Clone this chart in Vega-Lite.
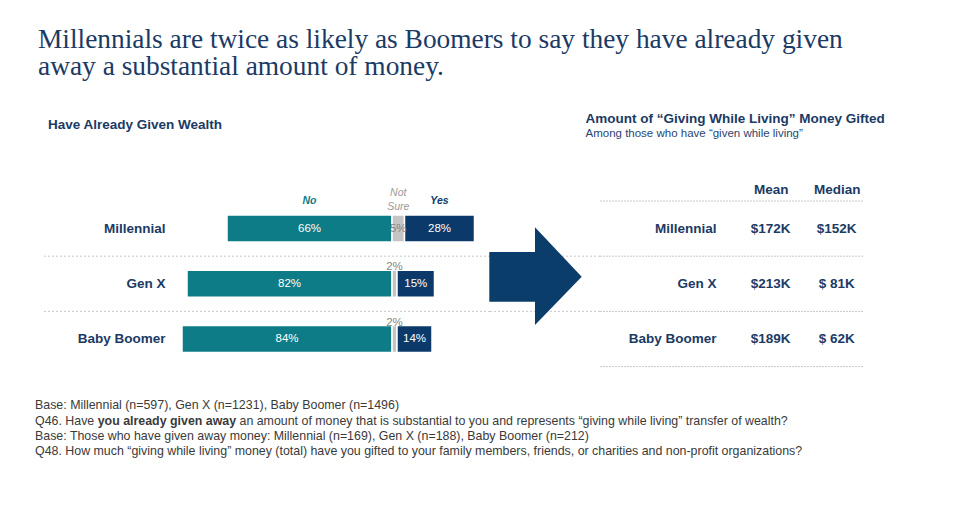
{
  "$schema": "https://vega.github.io/schema/vega-lite/v6.json",
  "background": "white",
  "padding": {"left": 35, "top": 26, "right": 5, "bottom": 5},
  "bounds": "flush",
  "columns": 3,
  "spacing": {"row": 30.7, "column": 0},
  "title": {
    "text": ["Millennials are twice as likely as Boomers to say they have already given", "away a substantial amount of money."],
    "anchor": "start",
    "font": "Liberation Serif",
    "fontSize": 27.4,
    "lineHeight": 27,
    "fontWeight": "normal",
    "color": "#1b3a64",
    "baseline": "top",
    "dx": 3,
    "offset": 31.2
  },
  "config": {
    "view": {"stroke": null},
    "font": "Liberation Sans",
    "title": {"font": "Liberation Sans", "subtitleFont": "Liberation Sans"},
    "axis": {"labelFont": "Liberation Sans"}
  },
  "datasets": {
    "survey": [
      {"group": "Millennial", "response": "No", "value": -66},
      {"group": "Millennial", "response": "Not Sure", "value": 5},
      {"group": "Millennial", "response": "Yes", "value": 28},
      {"group": "Gen X", "response": "No", "value": -82},
      {"group": "Gen X", "response": "Not Sure", "value": 2},
      {"group": "Gen X", "response": "Yes", "value": 15},
      {"group": "Baby Boomer", "response": "No", "value": -84},
      {"group": "Baby Boomer", "response": "Not Sure", "value": 2},
      {"group": "Baby Boomer", "response": "Yes", "value": 14}
    ],
    "gifted": [
      {"group": "Millennial", "stat": "Mean", "value": 172},
      {"group": "Millennial", "stat": "Median", "value": 152},
      {"group": "Gen X", "stat": "Mean", "value": 213},
      {"group": "Gen X", "stat": "Median", "value": 81},
      {"group": "Baby Boomer", "stat": "Mean", "value": 189},
      {"group": "Baby Boomer", "stat": "Median", "value": 62}
    ],
    "arrow": [{"item": "arrow"}],
    "notes": [
      {"line": 1, "part": "plain", "text": "Base: Millennial (n=597), Gen X (n=1231), Baby Boomer (n=1496)"},
      {"line": 2, "part": "plain", "text": "Q46. Have"},
      {"line": 2, "part": "bold", "text": "you already given away"},
      {"line": 2, "part": "post", "text": "an amount of money that is substantial to you and represents “giving while living” transfer of wealth?"},
      {"line": 3, "part": "plain", "text": "Base: Those who have given away money: Millennial (n=169), Gen X (n=188), Baby Boomer (n=212)"},
      {"line": 4, "part": "plain", "text": "Q48. How much “giving while living” money (total) have you gifted to your family members, friends, or charities and non-profit organizations?"}
    ]
  },
  "concat": [
    {
      "width": 448,
      "height": 165.6,
      "title": {
        "text": "Have Already Given Wealth",
        "anchor": "start",
        "fontSize": 13.5,
        "fontWeight": "bold",
        "color": "#1b3a64",
        "baseline": "alphabetic",
        "dx": 6.5,
        "offset": 46
      },
      "data": {"name": "survey"},
      "encoding": {
        "y": {
          "field": "group",
          "type": "nominal",
          "scale": {"type": "band", "domain": ["Millennial", "Gen X", "Baby Boomer"], "paddingInner": 0, "paddingOuter": 0},
          "axis": {
            "title": null,
            "domain": false,
            "ticks": false,
            "tickSize": 0,
            "grid": false,
            "labelPadding": 0,
            "offset": -123,
            "labelFontSize": 13.5,
            "labelFontWeight": "bold",
            "labelColor": "#1b3a64"
          }
        }
      },
      "layer": [
        {
          "transform": [{"filter": "datum.response == 'No' && datum.group != 'Baby Boomer'"}],
          "mark": {"type": "rule", "color": "#c8c8c8", "strokeDash": [2, 2], "strokeWidth": 1},
          "encoding": {
            "y": {"field": "group", "type": "nominal", "bandPosition": 1}
          }
        },
        {
          "mark": {"type": "bar", "size": 27, "stroke": "white", "strokeWidth": 1.5},
          "encoding": {
            "x": {
              "field": "value",
              "type": "quantitative",
              "stack": "zero",
              "scale": {"domain": [-140, 39.2], "nice": false, "zero": false},
              "axis": null
            },
            "order": {"field": "response", "type": "nominal", "sort": "ascending"},
            "color": {
              "field": "response",
              "type": "nominal",
              "scale": {"domain": ["No", "Not Sure", "Yes"], "range": ["#0e7c86", "#c4c4c4", "#0b3a6a"]},
              "legend": null
            }
          }
        },
        {
          "mark": {"type": "text", "fontSize": 11.5, "align": "center", "baseline": "middle", "text": {"expr": "abs(datum.value) + '%'"}},
          "encoding": {
            "x": {"field": "value", "type": "quantitative", "stack": "zero", "bandPosition": 0.5},
            "detail": {"field": "response"},
            "order": {"field": "response", "type": "nominal", "sort": "ascending"},
            "color": {"condition": {"test": "datum.response == 'Not Sure'", "value": "#858585"}, "value": "white"},
            "opacity": {"condition": {"test": "datum.response == 'Not Sure' && datum.value < 4", "value": 0}, "value": 1}
          }
        },
        {
          "mark": {"type": "text", "fontSize": 11.5, "align": "center", "baseline": "middle", "dy": -16.5, "color": "#858585", "text": {"expr": "abs(datum.value) + '%'"}},
          "encoding": {
            "x": {"field": "value", "type": "quantitative", "stack": "zero", "bandPosition": 0.5},
            "detail": {"field": "response"},
            "order": {"field": "response", "type": "nominal", "sort": "ascending"},
            "opacity": {"condition": {"test": "datum.response == 'Not Sure' && datum.value < 4", "value": 1}, "value": 0}
          }
        },
        {
          "transform": [{"filter": "datum.group == 'Millennial'"}],
          "mark": {"type": "text", "fontSize": 10.5, "fontWeight": "bold", "fontStyle": "italic", "align": "center", "baseline": "middle", "dy": -27.6},
          "encoding": {
            "x": {"field": "value", "type": "quantitative", "stack": "zero", "bandPosition": 0.5},
            "detail": {"field": "response"},
            "order": {"field": "response", "type": "nominal", "sort": "ascending"},
            "text": {"field": "response"},
            "color": {"condition": {"test": "datum.response == 'No'", "value": "#0e7c86"}, "value": "#0b3a6a"},
            "opacity": {"condition": {"test": "datum.response == 'Not Sure'", "value": 0}, "value": 1}
          }
        },
        {
          "transform": [{"filter": "datum.group == 'Millennial'"}],
          "mark": {"type": "text", "fontSize": 10.5, "fontStyle": "italic", "align": "center", "baseline": "middle", "dy": -35.6, "lineBreak": " ", "lineHeight": 13.5, "color": "#9a9a9a"},
          "encoding": {
            "x": {"field": "value", "type": "quantitative", "stack": "zero", "bandPosition": 0.5},
            "detail": {"field": "response"},
            "order": {"field": "response", "type": "nominal", "sort": "ascending"},
            "text": {"field": "response"},
            "opacity": {"condition": {"test": "datum.response == 'Not Sure'", "value": 1}, "value": 0}
          }
        }
      ]
    },
    {
      "width": 110,
      "height": 165.6,
      "layer": [
        {
          "data": {"name": "survey"},
          "transform": [{"filter": "datum.response == 'No' && datum.group != 'Baby Boomer'"}],
          "mark": {"type": "rule", "color": "#c8c8c8", "strokeDash": [2, 2], "strokeWidth": 1},
          "encoding": {
            "y": {
              "field": "group",
              "type": "nominal",
              "bandPosition": 1,
              "scale": {"type": "band", "domain": ["Millennial", "Gen X", "Baby Boomer"], "paddingInner": 0, "paddingOuter": 0},
              "axis": null
            }
          }
        },
        {
          "data": {"name": "arrow"},
          "mark": {
            "type": "point",
            "shape": "M-1.14,-0.651L-0.205,-0.651L-0.205,-1.157L0.751,-0.145L-0.205,0.843L-0.205,0.366L-1.14,0.366Z",
            "size": 9545,
            "filled": true,
            "color": "#0b3d6b",
            "opacity": 1,
            "strokeWidth": 0
          },
          "encoding": {}
        }
      ]
    },
    {
      "width": 263,
      "height": 165.6,
      "title": {
        "text": "Amount of “Giving While Living” Money Gifted",
        "subtitle": "Among those who have “given while living”",
        "anchor": "start",
        "dx": -14,
        "fontSize": 13.5,
        "fontWeight": "bold",
        "color": "#1b3a64",
        "subtitleFontSize": 11.5,
        "subtitleColor": "#2a4670",
        "subtitlePadding": 2,
        "offset": 43
      },
      "data": {"name": "gifted"},
      "encoding": {
        "y": {
          "field": "group",
          "type": "nominal",
          "scale": {"type": "band", "domain": ["Millennial", "Gen X", "Baby Boomer"], "paddingInner": 0, "paddingOuter": 0},
          "axis": {
            "title": null,
            "domain": false,
            "ticks": false,
            "tickSize": 0,
            "labelPadding": 0,
            "offset": -116,
            "grid": false,
            "labelFontSize": 13.5,
            "labelFontWeight": "bold",
            "labelColor": "#1b3a64"
          }
        }
      },
      "layer": [
        {
          "transform": [{"filter": "datum.stat == 'Mean'"}],
          "mark": {"type": "rule", "color": "#c8c8c8", "strokeDash": [2, 1], "strokeWidth": 1},
          "encoding": {
            "y": {"field": "group", "type": "nominal", "bandPosition": 0}
          }
        },
        {
          "transform": [{"filter": "datum.stat == 'Mean' && datum.group == 'Baby Boomer'"}],
          "mark": {"type": "rule", "color": "#c8c8c8", "strokeDash": [2, 1], "strokeWidth": 1},
          "encoding": {
            "y": {"field": "group", "type": "nominal", "bandPosition": 1}
          }
        },
        {
          "mark": {
            "type": "text",
            "fontSize": 13.5,
            "fontWeight": "bold",
            "color": "#1b3a64",
            "align": "center",
            "baseline": "middle",
            "text": {"expr": "'$' + (datum.value < 100 ? ' ' : '') + datum.value + 'K'"}
          },
          "encoding": {
            "x": {
              "field": "stat",
              "type": "nominal",
              "scale": {"type": "point", "domain": ["Mean", "Median"], "range": [170.7, 236.7], "padding": 0},
              "axis": {
                "orient": "top",
                "title": null,
                "domain": false,
                "ticks": false,
                "tickSize": 0,
                "labelPadding": 5,
                "labelAngle": 0,
                "labelFontSize": 13.5,
                "labelFontWeight": "bold",
                "labelColor": "#1b3a64"
              }
            }
          }
        }
      ]
    },
    {
      "width": 448,
      "height": 61.3,
      "data": {"name": "notes"},
      "encoding": {
        "x": {"value": 0},
        "y": {"field": "line", "type": "ordinal", "scale": {"type": "point", "padding": 0.5}, "axis": null},
        "text": {"field": "text"}
      },
      "layer": [
        {
          "transform": [{"filter": "datum.part == 'plain'"}],
          "mark": {"type": "text", "align": "left", "baseline": "middle", "fontSize": 12.4, "color": "#3a3a3a", "dx": -7}
        },
        {
          "transform": [{"filter": "datum.part == 'bold'"}],
          "mark": {"type": "text", "align": "left", "baseline": "middle", "fontSize": 12.4, "fontWeight": "bold", "color": "#3a3a3a", "dx": 55.7}
        },
        {
          "transform": [{"filter": "datum.part == 'post'"}],
          "mark": {"type": "text", "align": "left", "baseline": "middle", "fontSize": 12.4, "color": "#3a3a3a", "dx": 197.5}
        }
      ]
    }
  ]
}
